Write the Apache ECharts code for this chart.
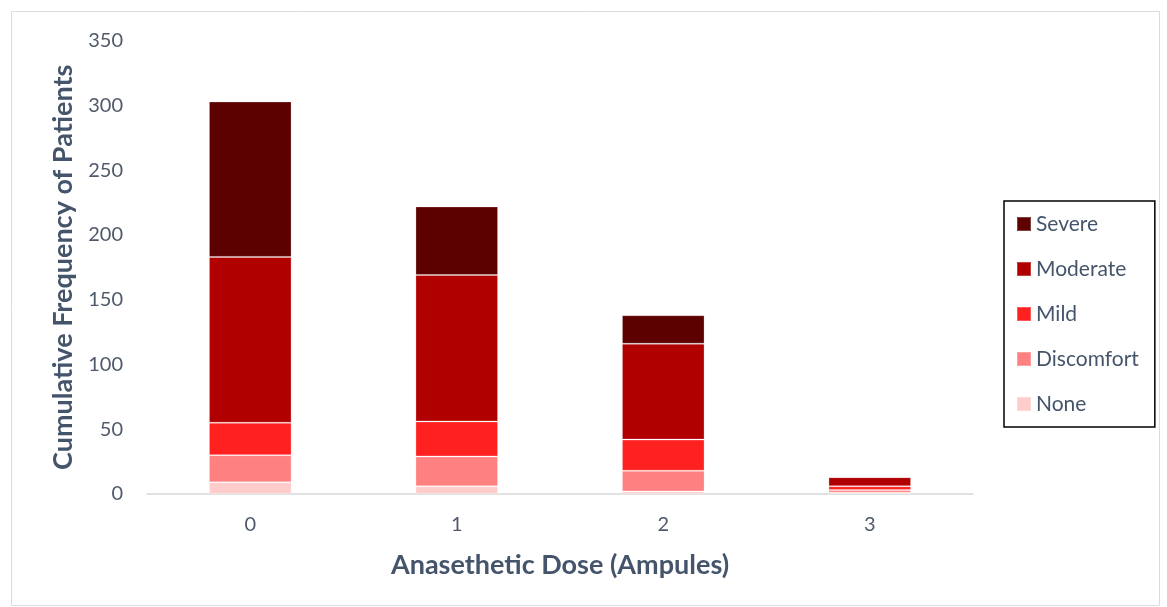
<!DOCTYPE html>
<html><head><meta charset="utf-8">
<script src="https://cdn.jsdelivr.net/npm/echarts@6/dist/echarts.min.js"></script>
<style>html,body{margin:0;padding:0;background:#fff}#c{width:1167px;height:607px}</style>
</head><body><div id="c"></div>
<script>
const categories = ['0', '1', '2', '3'];
const noneVals = [9, 6, 2, 1];
const discomfortVals = [21, 23, 16, 2];
const mildVals = [25, 27, 24, 3];
const moderateVals = [128, 113, 74, 7];
const severeVals = [120, 53, 22, 0];
const yTicks = [0, 50, 100, 150, 200, 250, 300, 350];

const FONT = 'Lato, "Open Sans", sans-serif';
const colors = { None: '#FFCCCC', Discomfort: '#FF8080', Mild: '#FF2020', Moderate: '#B00000', Severe: '#5C0000' };
function s(name, data) {
  return { name, type: 'bar', stack: 'total', data, barWidth: '40%',
    itemStyle: { color: colors[name], borderColor: 'rgba(255,255,255,0.25)', borderWidth: 1 } };
}
const chart = echarts.init(document.getElementById('c'));
chart.setOption({
  animation: false,
  backgroundColor: '#fff',
  graphic: [{ type: 'rect', shape: { x: 11.5, y: 11.5, width: 1148, height: 594 },
    style: { fill: 'none', stroke: '#D9DCE3', lineWidth: 1 }, silent: true, z: -1 }],
  grid: { left: 147, right: 194, top: 40.6, bottom: 113, containLabel: false },
  legend: {
    orient: 'vertical', left: 1004, top: 201,
    data: ['Severe', 'Moderate', 'Mild', 'Discomfort', 'None'],
    borderColor: '#000', borderWidth: 1.5,
    padding: [12, 16, 12, 12], itemGap: 23, itemWidth: 14, itemHeight: 14,
    icon: 'rect',
    textStyle: { fontFamily: FONT, fontSize: 21, color: '#44546A', lineHeight: 22, padding: [0, 0, 0, 0] }
  },
  xAxis: {
    type: 'category', data: categories,
    name: 'Anasethetic Dose (Ampules)', nameLocation: 'middle', nameGap: 58,
    nameTextStyle: { fontFamily: FONT, fontSize: 27, fontWeight: 'bold', color: '#44546A' },
    axisLine: { lineStyle: { color: '#D9D9D9', width: 1.5 } },
    axisTick: { show: false },
    axisLabel: { fontFamily: FONT, fontSize: 20, color: '#505A6B', margin: 21 }
  },
  yAxis: {
    type: 'value', min: 0, max: 350, interval: 50,
    name: 'Cumulative Frequency of Patients', nameLocation: 'middle', nameGap: 70,
    nameTextStyle: { fontFamily: FONT, fontSize: 27, fontWeight: 'bold', color: '#44546A' },
    axisLine: { show: false }, axisTick: { show: false },
    splitLine: { show: false },
    axisLabel: { fontFamily: FONT, fontSize: 20, color: '#505A6B', margin: 24,
      formatter: v => yTicks.includes(v) ? String(v) : '' }
  },
  series: [s('None', noneVals), s('Discomfort', discomfortVals), s('Mild', mildVals), s('Moderate', moderateVals), s('Severe', severeVals)]
});
</script></body></html>
